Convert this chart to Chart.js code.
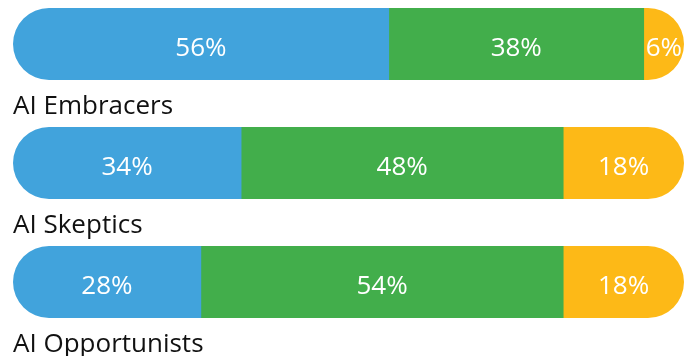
<!DOCTYPE html>
<html>
<head>
<meta charset="utf-8">
<script src="https://cdn.jsdelivr.net/npm/chart.js@4/dist/chart.umd.min.js"></script>
<style>
    html, body { margin: 0; padding: 0; background: #ffffff; }
    #wrap { width: 691px; height: 356px; position: relative; }
</style>
</head>
<body>
<div id="wrap"><canvas id="segments-chart"></canvas></div>
<script>
// Groups and their three shares (percent)
const categories = ['AI Embracers', 'AI Skeptics', 'AI Opportunists'];
const firstShare = [56, 34, 28];
const secondShare = [38, 48, 54];
const thirdShare = [6, 18, 18];
const segmentColors = ['#41A3DC', '#42AE4B', '#FDB917'];

const BAR_HEIGHT = 72;
const FONT = '"Open Sans", "Noto Sans", sans-serif';

// Rounded pill outline for every row, used as clip region
function pillPath(ctx, x, y, w, h) {
    const r = h / 2;
    ctx.moveTo(x + r, y);
    ctx.lineTo(x + w - r, y);
    ctx.arc(x + w - r, y + r, r, -Math.PI / 2, Math.PI / 2);
    ctx.lineTo(x + r, y + h);
    ctx.arc(x + r, y + r, r, Math.PI / 2, Math.PI * 1.5);
    ctx.closePath();
}

const pillPlugin = {
    id: 'pillBars',
    beforeDatasetsDraw(chart) {
        const ctx = chart.ctx;
        const xs = chart.scales.x;
        const ys = chart.scales.y;
        const x0 = xs.getPixelForValue(0);
        const x1 = xs.getPixelForValue(100);
        ctx.save();
        ctx.beginPath();
        categories.forEach((c, i) => {
            const yc = ys.getPixelForValue(i);
            pillPath(ctx, x0, yc - BAR_HEIGHT / 2, x1 - x0, BAR_HEIGHT);
        });
        ctx.clip();
    },
    afterDatasetsDraw(chart) {
        const ctx = chart.ctx;
        ctx.restore();

        // value labels inside the segments
        ctx.save();
        ctx.font = '26px ' + FONT;
        ctx.fillStyle = '#ffffff';
        ctx.textAlign = 'center';
        ctx.textBaseline = 'alphabetic';
        chart.data.datasets.forEach((ds, di) => {
            const meta = chart.getDatasetMeta(di);
            meta.data.forEach((bar, i) => {
                ctx.fillText(ds.data[i] + '%', (bar.x + bar.base) / 2, bar.y + 11.5);
            });
        });

        // group names under each bar
        ctx.fillStyle = '#111111';
        ctx.textAlign = 'left';
        const left = chart.scales.x.getPixelForValue(0);
        categories.forEach((c, i) => {
            const yc = chart.scales.y.getPixelForValue(i);
            ctx.fillText(c, left, yc + BAR_HEIGHT / 2 + 34);
        });
        ctx.restore();
    }
};

function makeDataset(values, color) {
    return {
        data: values,
        backgroundColor: color,
        borderWidth: 0,
        barThickness: BAR_HEIGHT,
        clip: false
    };
}

new Chart(document.getElementById('segments-chart'), {
    type: 'bar',
    data: {
        labels: categories,
        datasets: [
            makeDataset(firstShare, segmentColors[0]),
            makeDataset(secondShare, segmentColors[1]),
            makeDataset(thirdShare, segmentColors[2])
        ]
    },
    options: {
        indexAxis: 'y',
        responsive: true,
        maintainAspectRatio: false,
        animation: false,
        layout: {
            padding: { top: 44, bottom: 74, left: 13, right: 7 }
        },
        plugins: {
            legend: { display: false },
            tooltip: { enabled: false }
        },
        scales: {
            x: {
                stacked: true,
                min: 0,
                max: 100,
                display: false
            },
            y: {
                stacked: true,
                offset: false,
                display: false
            }
        }
    },
    plugins: [pillPlugin]
});
</script>
</body>
</html>
